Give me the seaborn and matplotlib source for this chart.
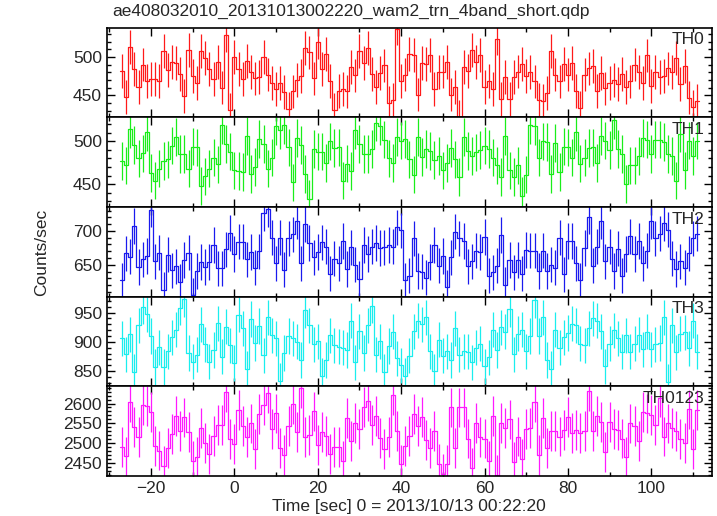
import numpy as np
import seaborn as sns
import matplotlib
matplotlib.use("Agg")
import matplotlib.pyplot as plt
from matplotlib.ticker import MultipleLocator

# bin centres (1 s bins), time since 2013/10/13 00:22:20
times = np.arange(-27, 112)

th0 = [482, 448, 513, 484, 461, 490, 469, 471, 471, 469,
       508, 483, 493, 492, 478, 449, 509, 475, 466, 508,
       499, 484, 471, 493, 460, 529, 431, 500, 484, 471,
       495, 480, 472, 474, 500, 477, 466, 458, 466, 454,
       432, 455, 470, 475, 512, 506, 472, 519, 484, 504,
       469, 431, 456, 458, 455, 487, 476, 508, 492, 512,
       478, 461, 479, 489, 440, 444, 537, 469, 477, 504,
       503, 451, 492, 491, 503, 458, 480, 481, 493, 451,
       461, 422, 487, 482, 509, 493, 503, 461, 469, 458,
       524, 445, 474, 445, 474, 481, 491, 475, 480, 468,
       444, 443, 453, 508, 477, 468, 491, 477, 492, 456,
       434, 477, 485, 488, 456, 479, 459, 466, 470, 465,
       478, 461, 468, 490, 480, 466, 502, 462, 480, 474,
       475, 485, 480, 499, 465, 488, 447, 435, 443]

th1 = [477, 472, 514, 496, 480, 486, 511, 463, 454, 468,
       477, 479, 495, 505, 485, 485, 468, 494, 493, 448,
       459, 468, 481, 473, 519, 497, 488, 466, 465, 464,
       506, 462, 470, 503, 497, 468, 481, 518, 513, 519,
       493, 452, 504, 496, 462, 433, 491, 488, 488, 475,
       500, 492, 493, 454, 474, 465, 513, 497, 485, 485,
       491, 522, 518, 502, 480, 475, 505, 501, 503, 479,
       461, 505, 482, 491, 489, 478, 483, 466, 475, 492,
       479, 458, 505, 489, 483, 487, 490, 495, 491, 481,
       472, 458, 506, 466, 458, 472, 436, 461, 519, 518,
       481, 500, 499, 462, 498, 464, 494, 493, 481, 511,
       474, 481, 492, 493, 475, 506, 501, 490, 525, 491,
       485, 450, 472, 472, 483, 504, 502, 485, 502, 502,
       499, 485, 483, 454, 509, 466, 501, 483, 501]

th2 = [627, 667, 662, 707, 647, 658, 663, 731, 655, 668,
       613, 665, 642, 648, 625, 657, 668, 605, 641, 654,
       647, 654, 679, 645, 645, 673, 697, 666, 684, 684,
       658, 669, 646, 670, 726, 732, 690, 652, 690, 643,
       689, 695, 714, 652, 710, 682, 661, 669, 683, 677,
       637, 659, 652, 685, 644, 676, 650, 629, 679, 666,
       677, 682, 675, 676, 679, 677, 705, 701, 627, 634,
       689, 641, 640, 631, 654, 679, 649, 663, 617, 661,
       699, 689, 685, 648, 655, 671, 669, 691, 634, 639,
       649, 694, 621, 657, 639, 657, 637, 672, 671, 671,
       641, 671, 641, 650, 646, 690, 636, 685, 685, 652,
       627, 675, 721, 649, 677, 714, 655, 677, 641, 674,
       634, 666, 692, 666, 685, 652, 671, 714, 689, 696,
       711, 702, 659, 644, 655, 646, 667, 689, 696]

th3 = [906, 879, 913, 849, 928, 960, 947, 910, 857, 891,
       857, 884, 908, 921, 958, 973, 881, 866, 878, 930,
       896, 866, 886, 932, 875, 926, 894, 864, 946, 923,
       854, 939, 898, 927, 877, 942, 911, 906, 834, 881,
       910, 906, 900, 869, 954, 928, 896, 901, 842, 869,
       911, 894, 892, 890, 886, 936, 865, 918, 881, 928,
       962, 878, 901, 849, 893, 917, 872, 860, 842, 876,
       918, 936, 930, 942, 884, 850, 904, 876, 884, 869,
       923, 878, 884, 883, 865, 890, 897, 858, 874, 921,
       886, 925, 917, 956, 879, 914, 921, 884, 910, 971,
       910, 942, 869, 854, 921, 890, 908, 915, 931, 928,
       897, 894, 923, 940, 936, 918, 858, 897, 920, 906,
       883, 911, 883, 897, 912, 887, 917, 887, 896, 898,
       942, 832, 928, 882, 914, 916, 889, 936, 883]

th0123 = [2490, 2467, 2604, 2540, 2515, 2597, 2593, 2578, 2494, 2482,
          2443, 2488, 2523, 2568, 2532, 2565, 2529, 2456, 2465, 2539,
          2500, 2473, 2519, 2546, 2546, 2629, 2510, 2498, 2583, 2543,
          2515, 2550, 2485, 2573, 2597, 2627, 2535, 2575, 2489, 2471,
          2544, 2599, 2528, 2638, 2516, 2520, 2580, 2495, 2528, 2518,
          2473, 2490, 2490, 2455, 2563, 2505, 2551, 2536, 2591, 2607,
          2547, 2569, 2513, 2486, 2516, 2622, 2530, 2447, 2493, 2518,
          2574, 2544, 2567, 2508, 2488, 2530, 2449, 2424, 2447, 2590,
          2488, 2590, 2590, 2512, 2438, 2552, 2515, 2512, 2456, 2568,
          2421, 2552, 2539, 2560, 2454, 2517, 2460, 2535, 2539, 2604,
          2471, 2563, 2488, 2532, 2532, 2517, 2533, 2567, 2525, 2533,
          2527, 2532, 2632, 2532, 2568, 2554, 2479, 2554, 2535, 2533,
          2512, 2465, 2550, 2544, 2506, 2578, 2575, 2571, 2546, 2615,
          2517, 2550, 2538, 2532, 2510, 2500, 2585, 2485, 2583]

# 1-sigma errors per band (counts/sec)
errors = [22, 22, 26, 30, 50]

names = ["TH0", "TH1", "TH2", "TH3", "TH0123"]
series = [th0, th1, th2, th3, th0123]
colors = ["#ff1a1a", "#1aee1a", "#1a1aee", "#1aeeee", "#ff1aff"]
ylims = [(421, 538), (423, 528), (603, 735), (824, 977), (2418, 2643)]

sns.set_theme(style="ticks")
plt.rcParams["font.family"] = ["Liberation Sans", "DejaVu Sans"]

fig, axes = plt.subplots(5, 1, sharex=True, figsize=(7.17, 5.16), dpi=100)
fig.subplots_adjust(left=0.149, right=0.9926, top=0.946, bottom=0.0775, hspace=0)

edges = np.append(times - 0.5, times[-1] + 0.5)

for ax, name, vals, col, err, lim in zip(axes, names, series, colors, errors, ylims):
    vals = np.array(vals)
    sns.lineplot(x=edges, y=np.append(vals, vals[-1]), drawstyle="steps-post",
                 color=col, lw=0.9, ax=ax, estimator=None, errorbar=None)
    ax.errorbar(times, vals, yerr=err, fmt="none", ecolor=col, elinewidth=0.9, capsize=0)
    ax.set_ylim(*lim)
    ax.set_xlim(-30.6, 114.5)
    ax.yaxis.set_major_locator(MultipleLocator(50))
    ax.yaxis.set_minor_locator(MultipleLocator(10))
    ax.xaxis.set_major_locator(MultipleLocator(20))
    ax.xaxis.set_minor_locator(MultipleLocator(10))
    ax.tick_params(which="both", direction="in", top=True, right=True,
                   labelsize=12.5, color="black", width=1)
    ax.tick_params(which="major", length=6)
    ax.tick_params(which="minor", length=3)
    for sp in ax.spines.values():
        sp.set_color("black")
        sp.set_linewidth(1.2)
    ax.text(0.988, 0.95, name, transform=ax.transAxes, ha="right", va="top", fontsize=12.5)
    ax.set_ylabel("")

axes[-1].set_xlabel("Time [sec] 0 = 2013/10/13 00:22:20", fontsize=12.5, labelpad=2)
fig.text(0.156, 0.977, "ae408032010_20131013002220_wam2_trn_4band_short.qdp",
         ha="left", va="center", fontsize=12.5)
fig.text(0.058, 0.51, "Counts/sec", rotation=90, ha="center", va="center", fontsize=12.5)

fig.savefig("out.png", dpi=100)
